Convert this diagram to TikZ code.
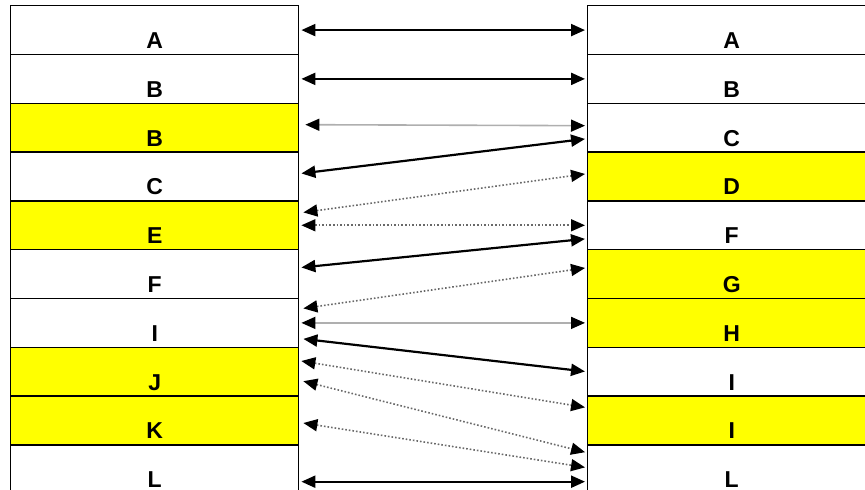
\documentclass[tikz,border=0pt]{standalone}
\usepackage{fontspec}
\setmainfont{Liberation Sans}
\usepackage{tikz}
\usetikzlibrary{positioning, arrows.meta}
\definecolor{RowYellow}{RGB}{255, 255, 0}
\definecolor{LinkGray}{RGB}{105, 105, 105}
\definecolor{FaintGray}{RGB}{175, 175, 175}
\tikzset{
  row/.style={draw, line width=0.7pt, anchor=north west, minimum width=144pt,
    inner xsep=0pt, inner ysep=0pt, text height=21.4pt, text depth=3pt,
    font=\fontsize{11.5}{12}\selectfont\bfseries},
  hirow/.style={row, fill=RowYellow},
  link/.style={{Triangle[length=7pt, width=6pt, black]}-{Triangle[length=7pt, width=6pt, black]},
    line width=1.1pt, shorten <=1pt, shorten >=1pt},
  weaklink/.style={link, line width=0.8pt, draw=LinkGray, densely dotted},
  faintlink/.style={link, line width=0.8pt, draw=FaintGray}
}
\begin{document}
\begin{tikzpicture}[x=0.5pt, y=0.5pt]
    \useasboundingbox (0, 0) rectangle (865, 490);
    \clip (0, 0) rectangle (865, 490);

    % Left column
    \node[row]   (la)  at (10, 485)   {A};
    \node[row]   (lb)  at (10, 436.2) {B};
    \node[hirow] (lb2) at (10, 387.4) {B};
    \node[row]   (lc)  at (10, 338.6) {C};
    \node[hirow] (le)  at (10, 289.8) {E};
    \node[row]   (lf)  at (10, 241)   {F};
    \node[row]   (li)  at (10, 192.2) {I};
    \node[hirow] (lj)  at (10, 143.4) {J};
    \node[hirow] (lk)  at (10, 94.6)  {K};
    \node[row]   (ll)  at (10, 45.8)  {L};

    % Right column
    \node[row]   (ra)  at (587, 485)   {A};
    \node[row]   (rb)  at (587, 436.2) {B};
    \node[row]   (rc)  at (587, 387.4) {C};
    \node[hirow] (rd)  at (587, 338.6) {D};
    \node[row]   (rf)  at (587, 289.8) {F};
    \node[hirow] (rg)  at (587, 241)   {G};
    \node[hirow] (rh)  at (587, 192.2) {H};
    \node[row]   (ri)  at (587, 143.4) {I};
    \node[hirow] (ri2) at (587, 94.6)  {I};
    \node[row]   (rl)  at (587, 45.8)  {L};

    % Links
    \draw[link] (la.east) -- (ra.west);
    \draw[link] (lb.east) -- (rb.west);
    \draw[faintlink] ([xshift=2pt, yshift=1.5pt]lb2.east) -- ([yshift=1pt]rc.west);
    \draw[link] ([yshift=1.4pt]lc.east) -- ([yshift=-5.5pt]rc.west);
    \draw[weaklink] ([xshift=1pt, yshift=6.3pt]le.east) -- ([yshift=1.4pt]rd.west);
    \draw[weaklink] (le.east) -- (rf.west);
    \draw[link] ([yshift=3.2pt]lf.east) -- ([yshift=-6.7pt]rf.west);
    \draw[weaklink] ([xshift=1pt, yshift=7.1pt]li.east) -- ([yshift=3.2pt]rg.west);
    \draw[faintlink] (li.east) -- (rh.west);
    \draw[link] ([xshift=1pt, yshift=-7.9pt]li.east) -- (ri.west);
    \draw[weaklink] ([yshift=5.5pt]lj.east) -- ([yshift=6.4pt]ri2.west);
    \draw[weaklink] ([xshift=1pt, yshift=-4.5pt]lj.east) -- ([yshift=8.3pt]rl.west);
    \draw[weaklink] ([xshift=1pt, yshift=-1.1pt]lk.east) -- ([yshift=0.8pt]rl.west);
    \draw[link] ([yshift=-6.2pt]ll.east) -- ([yshift=-6.2pt]rl.west);
  \end{tikzpicture}
\end{document}
